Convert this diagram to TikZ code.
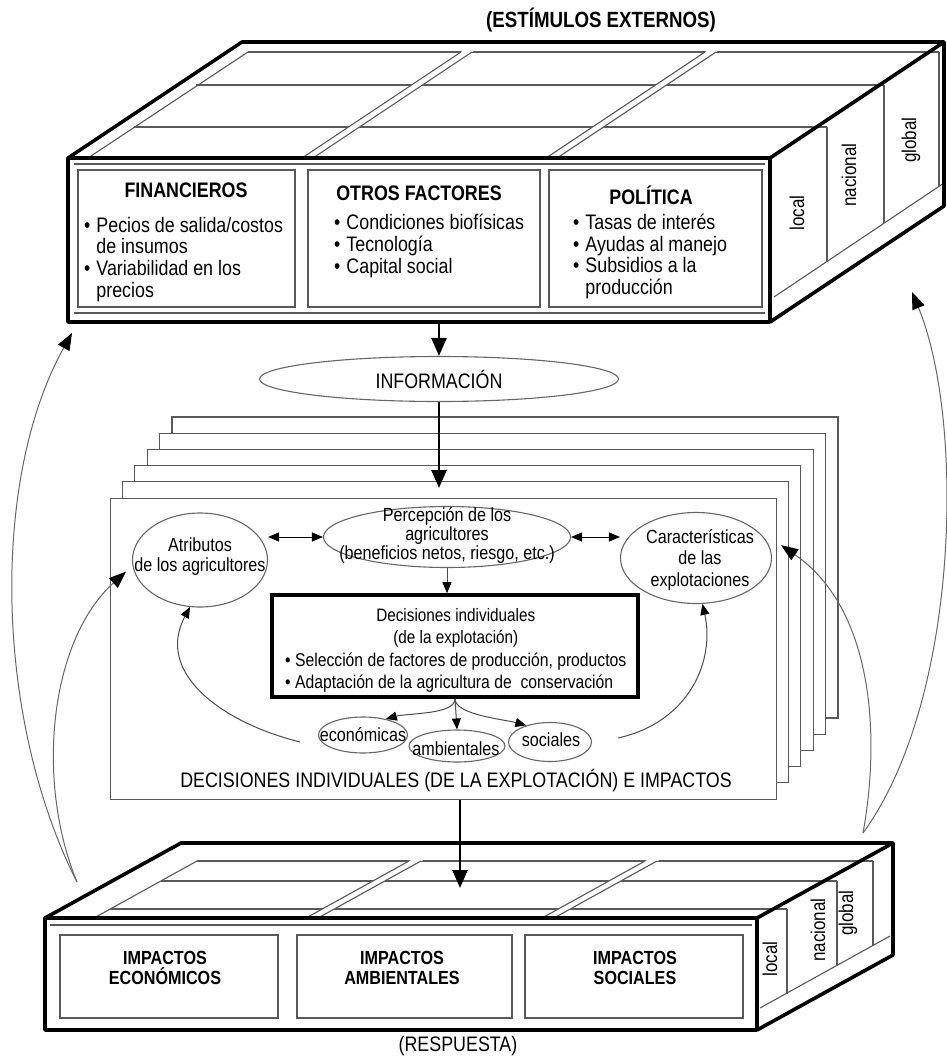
\documentclass[tikz,border=0pt]{standalone}
\usepackage{fontspec}
\setmainfont{Liberation Sans}[FakeStretch=0.85]
\usetikzlibrary{arrows.meta, shapes.geometric}

\begin{document}
\begin{tikzpicture}[x=1pt, y=-1pt,
    boxline/.style={line width=3.6pt, line join=round},
    gridline/.style={draw=black!65, line width=1.1pt},
    pagesheet/.style={draw=black!65, line width=1.1pt, fill=white},
    mainarrow/.style={-{Triangle[length=18pt, width=15pt]}, line width=2.6pt},
    feedback/.style={-{Triangle[length=17pt, width=13pt, color=black]}, draw=black!60, line width=1pt},
    minor/.style={-{Triangle[length=11pt, width=9pt, color=black]}, draw=black!70, line width=1pt},
    twoway/.style={{Triangle[length=11pt, width=9pt]}-{Triangle[length=11pt, width=9pt]}, line width=1pt},
    oval/.style={ellipse, draw=black!60, line width=1.1pt, inner sep=0pt},
    headtxt/.style={font=\bfseries\fontsize{21}{22}\selectfont, inner sep=0pt, align=center},
    listtxt/.style={font=\fontsize{21}{21.7}\selectfont, inner sep=0pt, anchor=west},
    bodytxt/.style={font=\fontsize{19}{21}\selectfont, inner sep=0pt, align=center},
    sidetxt/.style={font=\fontsize{20}{22}\selectfont, inner sep=0pt, rotate=90}]
  \useasboundingbox (0,0) rectangle (946,1057);

  % estimulos externos
  \foreach \y/\xa/\xb in {52/248/939, 85/196/884, 127/134/827}
    \draw[gridline] (\xa,\y) -- (\xb,\y);
  \draw[gridline] (88,158) -- (248,52);
  \foreach \x/\ya/\yb in {827/127/261, 884/85/223, 939/52/187}
    \draw[gridline] (\x,\ya) -- (\x,\yb);
  \draw[gridline] (774,297) -- (944,183);
  \foreach \x in {302, 546} {
    \fill[white] (\x,158) -- ++(162,-108) -- ++(11,0) -- ++(-162,108) -- cycle;
    \draw[gridline] (\x,158) -- ++(159,-106) (\x+11,158) -- ++(159,-106);
  }
  \draw[gridline] (74,164) -- (765,164) (74,313) -- (765,313);
  \foreach \xa/\xb in {78/295, 308/540, 549/762}
    \draw[gridline] (\xa,170) rectangle (\xb,307);
  \draw[boxline] (68,158) rectangle (770,322);
  \draw[boxline] (68,158) -- (242,42) -- (944,42) -- (944,206) -- (770,322) (770,158) -- (944,42);

  \node[headtxt, font=\bfseries\fontsize{22}{24}\selectfont] (estim) at (601,20) {(ESTÍMULOS EXTERNOS)};
  \node[headtxt] (fin) at (186,190) {FINANCIEROS};
  \node[headtxt] (otros) at (419,193) {OTROS FACTORES};
  \node[headtxt] (pol) at (651,195) {POLÍTICA};
  \node[listtxt] (finlist) at (84,260.5) {\begin{tabular}{@{}l@{\hspace{6pt}}l@{}}
      \textbullet & Pecios de salida/costos\\ & de insumos\\ \textbullet & Variabilidad en los\\ & precios\end{tabular}};
  \node[listtxt] (otroslist) at (334,247) {\begin{tabular}{@{}l@{\hspace{6pt}}l@{}}
      \textbullet & Condiciones biofísicas\\ \textbullet & Tecnología\\ \textbullet & Capital social\end{tabular}};
  \node[listtxt] (pollist) at (573,257.7) {\begin{tabular}{@{}l@{\hspace{6pt}}l@{}}
      \textbullet & Tasas de interés\\ \textbullet & Ayudas al manejo\\ \textbullet & Subsidios a la\\ & producción\end{tabular}};
  \node[sidetxt] (toploc) at (797,213) {local};
  \node[sidetxt] (topnac) at (849,175) {nacional};
  \node[sidetxt] (topglo) at (911,140) {global};

  % informacion
  \node[oval, minimum width=359pt, minimum height=45pt] (info) at (439,379) {};
  \node[bodytxt, font=\fontsize{21}{22}\selectfont] (infotxt) at (info) {INFORMACIÓN};
  \coordinate (tbout) at (439,322);
  \draw[mainarrow] (tbout) -- (info.north);

  % decisiones individuales
  \foreach \k in {5,4,...,1}
    \draw[pagesheet] ({110+12.4*\k},{498-16.2*\k}) rectangle +(666,301);
  \node[pagesheet, minimum width=666pt, minimum height=301pt, inner sep=0pt, anchor=north west] (front) at (110,498) {};
  \coordinate (stackin) at (439,488);
  \draw[mainarrow] (info.south) -- (stackin);

  \node[oval, minimum width=135pt, minimum height=94pt] (atr) at (200,560) {};
  \node[bodytxt, font=\fontsize{19}{20}\selectfont] (atrtxt) at (200,557) {Atributos\\de los agricultores};
  \node[oval, minimum width=247pt, minimum height=61pt] (per) at (447,537) {};
  \node[bodytxt, font=\fontsize{19}{17.5}\selectfont] (pertxt) at (447,535.5) {Percepción de los\\agricultores\\(beneficios netos, riesgo, etc.)};
  \node[oval, minimum width=151pt, minimum height=91pt] (car) at (696,558) {};
  \node[bodytxt, font=\fontsize{19}{21.5}\selectfont] (cartxt) at (700,559.5) {Características\\de las\\explotaciones};
  \draw[twoway] (per.west -| atr.east) -- (per.west);
  \draw[twoway] (per.east) -- (per.east -| car.west);

  \node[draw, line width=3.6pt, minimum width=366pt, minimum height=102pt] (dec) at (455,646) {};
  \node[anchor=west, inner sep=0pt, font=\fontsize{18.5}{22.3}\selectfont] (dectxt) at (285,650.5) {\begin{tabular}{@{}l@{}}
      \multicolumn{1}{@{}c@{}}{\fontsize{18}{22.3}\selectfont Decisiones individuales}\\
      \multicolumn{1}{@{}c@{}}{\fontsize{18}{22.3}\selectfont (de la explotación)}\\
      \textbullet\ Selección de factores de producción, productos\\
      \textbullet\ Adaptación de la agricultura de\ \ conservación\end{tabular}};
  \draw[minor] (per.south) -- (per.south |- dec.north);

  \node[oval, minimum width=89pt, minimum height=36pt] (eco) at (363,735) {};
  \node[bodytxt] (ecotxt) at (363,735) {económicas};
  \node[oval, minimum width=96pt, minimum height=32pt] (amb) at (457,746) {};
  \node[bodytxt] (ambtxt) at (456,749) {ambientales};
  \node[oval, minimum width=83pt, minimum height=39pt] (soc) at (550,742) {};
  \node[bodytxt] (soctxt) at (551,740) {sociales};
  \draw[minor] (dec.south) .. controls +(0,16) and +(22,-6) .. (eco.35);
  \draw[minor] (dec.south) -- (amb.north);
  \draw[minor] (dec.south) .. controls +(0,16) and +(-22,-6) .. (soc.145);
  \coordinate (ecoback) at (300,742);
  \coordinate (socback) at (618,738);
  \draw[minor] (ecoback) .. controls (220,722) and (155,672) .. (atr.258);
  \draw[minor] (socback) .. controls (690,722) and (715,660) .. (car.-82);
  \node[bodytxt, font=\fontsize{21}{22}\selectfont] (dectit) at (456,781) {DECISIONES INDIVIDUALES (DE LA EXPLOTACIÓN) E IMPACTOS};

  % respuesta
  \foreach \y/\xa/\xb in {861/197/873, 881/161/837, 909/110/787}
    \draw[gridline] (\xa,\y) -- (\xb,\y);
  \draw[gridline] (94,918) -- (197,861);
  \foreach \x/\ya/\yb in {787/909/994, 837/881/966, 873/861/946}
    \draw[gridline] (\x,\ya) -- (\x,\yb);
  \draw[gridline] (760,1008) -- (890,936);
  \foreach \x in {306, 542} {
    \fill[white] (\x,918) -- ++(107,-59) -- ++(12,0) -- ++(-107,59) -- cycle;
    \draw[gridline] (\x,918) -- ++(103,-57) (\x+12,918) -- ++(103,-57);
  }
  \draw[gridline] (50,925) -- (752,925);
  \foreach \xa/\xb in {60/278, 297/512, 525/743}
    \draw[gridline] (\xa,935) rectangle (\xb,1018);
  \draw[boxline] (45,918) rectangle (757,1030);
  \draw[boxline] (45,918) -- (181,843) -- (893,843) -- (893,955) -- (757,1030) (757,918) -- (893,843);

  \node[headtxt, font=\bfseries\fontsize{19}{20}\selectfont] (impeco) at (165,968) {IMPACTOS\\ECONÓMICOS};
  \node[headtxt, font=\bfseries\fontsize{19}{20}\selectfont] (impamb) at (402,968) {IMPACTOS\\AMBIENTALES};
  \node[headtxt, font=\bfseries\fontsize{19}{20}\selectfont] (impsoc) at (635,968) {IMPACTOS\\SOCIALES};
  \node[sidetxt] (botloc) at (770,959) {local};
  \node[sidetxt] (botnac) at (818,930) {nacional};
  \node[sidetxt] (botglo) at (848,913) {global};
  \node[bodytxt, font=\fontsize{21}{22}\selectfont] (resp) at (458,1046) {(RESPUESTA)};
  \coordinate (bbin) at (460,888);
  \draw[mainarrow] (front.south -| bbin) -- (bbin);

  % retroalimentacion
  \coordinate (sl) at (77,882);
  \coordinate (sr) at (863,833);
  \coordinate (tl) at (72,333);
  \coordinate (tr) at (912,292);
  \draw[feedback] (sl) .. controls (-5,720) and (-10,480) .. (tl);
  \draw[feedback] (sl) .. controls (35,780) and (50,640) .. ([xshift=-8pt]atr.190);
  \draw[feedback] (sr) .. controls (960,700) and (965,420) .. (tr);
  \draw[feedback] (sr) .. controls (880,740) and (875,610) .. ([xshift=12pt]car.10);
\end{tikzpicture}
\end{document}
